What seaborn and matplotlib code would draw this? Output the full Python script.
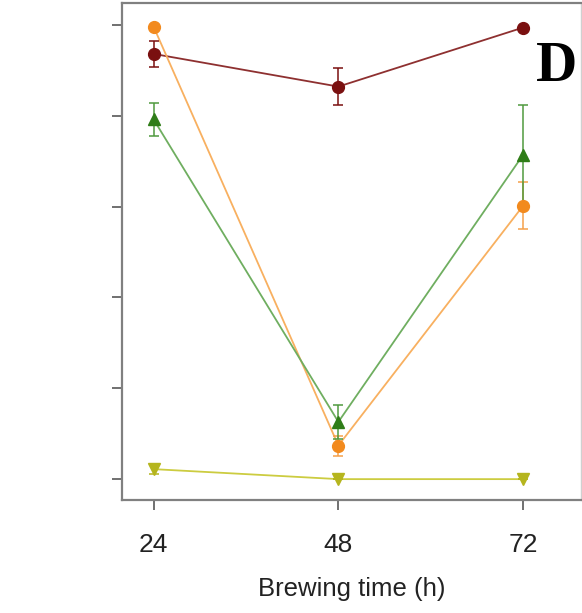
import matplotlib
matplotlib.use("Agg")
import matplotlib.pyplot as plt
import seaborn as sns
import pandas as pd
import numpy as np

# Brewing time points (h)
times = [24, 48, 72]

# Mean values and standard errors for each series
dark_red_mean = [4.68, 4.32, 4.97]
dark_red_err = [0.14, 0.20, 0.0]

orange_mean = [4.98, 0.37, 3.01]
orange_err = [0.0, 0.11, 0.26]

green_mean = [3.96, 0.63, 3.57]
green_err = [0.18, 0.19, 0.55]

yellow_mean = [0.11, 0.0, 0.0]
yellow_err = [0.05, 0.0, 0.0]

series_names = ["S1", "S2", "S3", "S4"]
series_means = [dark_red_mean, orange_mean, green_mean, yellow_mean]
series_errs = [dark_red_err, orange_err, green_err, yellow_err]
marker_colors = ["#7a1010", "#f28a1e", "#2f7d18", "#b5b51e"]
line_colors = ["#8e3030", "#f8b060", "#6fae60", "#cccc40"]
err_colors = ["#7a1010", "#f5a04a", "#4f9a3e", "#b5b51e"]
markers = ["o", "o", "^", "v"]

y_ticks = [0, 1, 2, 3, 4, 5]
x_ticks = [24, 48, 72]
x_label = "Brewing time (h)"
panel_label = "D"

rows = []
for name, m in zip(series_names, series_means):
    for t, v in zip(times, m):
        rows.append({"time": t, "value": v, "series": name})
df = pd.DataFrame(rows)

sns.set_style("white")
plt.rcParams["font.family"] = ["Liberation Sans", "DejaVu Sans"]

fig = plt.figure(figsize=(5.82, 6.13), dpi=100)
ax = fig.add_axes([0.2096, 0.1843, 0.7886, 0.8108])

sns.lineplot(data=df, x="time", y="value", hue="series",
             palette=dict(zip(series_names, line_colors)),
             linewidth=1.3, legend=False, ax=ax, zorder=2)

for name, m, e, mc, ec, mk in zip(series_names, series_means, series_errs,
                                  marker_colors, err_colors, markers):
    ax.errorbar(times, m, yerr=e, fmt=mk, color=mc, ecolor=ec,
                markersize=8.5, capsize=3.5, elinewidth=1.1,
                capthick=1.1, zorder=3)

ax.set_xlim(19.9, 79.5)
ax.set_ylim(-0.23, 5.24)
ax.set_xticks(x_ticks)
ax.set_xticklabels([str(t) for t in x_ticks], fontsize=19)
ax.set_yticks(y_ticks)
ax.set_yticklabels([])
ax.set_xlabel(x_label, fontsize=18.5, color="#222222", labelpad=14)
ax.set_ylabel("")

for side, sp in ax.spines.items():
    sp.set_color("#808080")
    sp.set_linewidth(1.6)
ax.spines["right"].set_color("#d0d0d0")
ax.spines["right"].set_linewidth(1.0)

ax.tick_params(axis="both", direction="out", length=7, width=1.4,
               color="#707070", labelcolor="#222222", pad=17,
               left=True, bottom=True)

ax.text(0.902, 0.872, panel_label, transform=ax.transAxes,
        fontsize=41, fontweight="bold", family="Liberation Serif",
        va="center", ha="left", color="black")

fig.savefig("out.png", dpi=100)
